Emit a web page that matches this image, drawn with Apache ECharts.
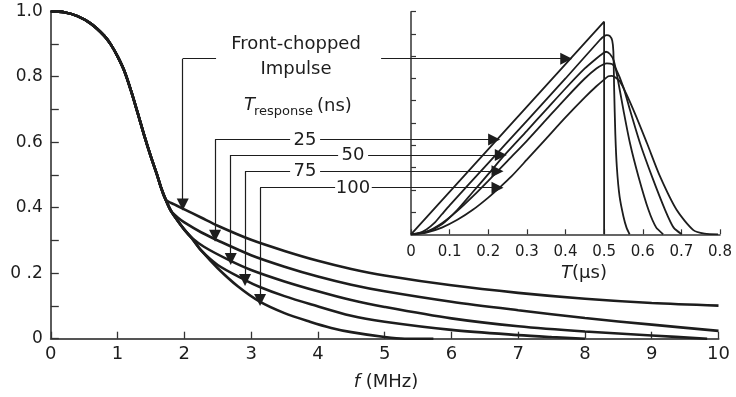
<!DOCTYPE html>
<html>
<head>
<meta charset="utf-8">
<script src="https://cdn.jsdelivr.net/npm/echarts@6/dist/echarts.min.js"></script>
<style>
html, body { margin: 0; padding: 0; background: #fff; }
#chart { width: 736px; height: 397px; }
</style>
</head>
<body>
<div id="chart"></div>
<script>
// ---- spectrum (main plot), f in MHz ----
var freqCommon = [0, 0.2, 0.4, 0.6, 0.8, 0.9, 1.0, 1.1, 1.2, 1.3, 1.4, 1.5, 1.6, 1.65];
var ampCommon  = [1.0, 0.997, 0.985, 0.962, 0.925, 0.898, 0.862, 0.818, 0.758, 0.69, 0.62, 0.555, 0.495, 0.462];

var freqImpulse = [1.72, 1.85, 2.0, 2.25, 2.5, 3.0, 3.5, 4.0, 4.5, 5.0, 6.0, 7.0, 8.0, 9.0, 10.0];
var ampImpulse  = [0.425, 0.41, 0.395, 0.37, 0.345, 0.302, 0.268, 0.238, 0.213, 0.193, 0.163, 0.14, 0.122, 0.109, 0.101];

var freq25 = [1.72, 1.8, 1.9, 2.0, 2.25, 2.5, 3.0, 3.5, 4.0, 4.5, 5.0, 6.0, 7.0, 8.0, 9.0, 10.0];
var amp25  = [0.425, 0.39, 0.37, 0.355, 0.325, 0.3, 0.255, 0.22, 0.19, 0.165, 0.145, 0.113, 0.087, 0.063, 0.043, 0.024];

var freq50 = [1.72, 1.8, 1.9, 2.0, 2.1, 2.3, 2.67, 3.0, 3.5, 4.0, 4.5, 5.0, 6.0, 7.0, 8.0, 9.0, 9.83];
var amp50  = [0.425, 0.39, 0.36, 0.333, 0.31, 0.28, 0.24, 0.21, 0.175, 0.145, 0.118, 0.097, 0.062, 0.038, 0.022, 0.01, 0];

var freq75 = [1.72, 1.8, 1.9, 2.0, 2.1, 2.25, 2.5, 2.91, 3.13, 3.5, 3.88, 4.5, 5.0, 6.0, 7.0, 7.5, 8.0];
var amp75  = [0.425, 0.39, 0.36, 0.333, 0.31, 0.27, 0.225, 0.179, 0.158, 0.13, 0.106, 0.07, 0.052, 0.027, 0.011, 0.005, 0];

var freq100 = [1.72, 1.8, 1.9, 2.0, 2.1, 2.25, 2.5, 2.8, 3.13, 3.5, 3.88, 4.2, 4.5, 5.0, 5.3, 5.73];
var amp100  = [0.425, 0.39, 0.36, 0.333, 0.31, 0.27, 0.215, 0.16, 0.113, 0.078, 0.052, 0.033, 0.02, 0.005, 0, 0];

var xTickLabels = ['0', '1', '2', '3', '4', '5', '6', '7', '8', '9', '10'];
var yTickLabels = ['0', '', '0 .2', '', '0.4', '', '0.6', '', '0.8', '', '1.0'];

// ---- time waveforms (inset), T in microseconds ----
var tImpulse = [0, 0.5, 0.5];
var vImpulse = [0, 0.955, 0];

var t25 = [0, 0.02, 0.04, 0.06, 0.08, 0.1, 0.2, 0.3, 0.4, 0.49, 0.5, 0.507, 0.515, 0.521, 0.524, 0.526, 0.529, 0.533, 0.54, 0.55, 0.558, 0.566];
var v25 = [0, 0.005, 0.022, 0.05, 0.09, 0.13, 0.32, 0.51, 0.70, 0.875, 0.89, 0.895, 0.89, 0.87, 0.82, 0.65, 0.45, 0.3, 0.17, 0.08, 0.03, 0];

var t50 = [0, 0.04, 0.08, 0.12, 0.16, 0.2, 0.239, 0.3, 0.35, 0.4, 0.45, 0.48, 0.495, 0.505, 0.515, 0.525, 0.535, 0.55, 0.567, 0.589, 0.615, 0.635, 0.653];
var v50 = [0, 0.01, 0.045, 0.11, 0.19, 0.27, 0.35, 0.465, 0.56, 0.655, 0.745, 0.79, 0.81, 0.82, 0.81, 0.78, 0.7, 0.558, 0.409, 0.259, 0.109, 0.03, 0];

var t75 = [0, 0.04, 0.08, 0.12, 0.16, 0.2, 0.25, 0.3, 0.35, 0.4, 0.45, 0.48, 0.5, 0.507, 0.52, 0.53, 0.55, 0.567, 0.593, 0.624, 0.658, 0.68, 0.701];
var v75 = [0, 0.012, 0.05, 0.105, 0.17, 0.24, 0.33, 0.42, 0.515, 0.61, 0.7, 0.745, 0.765, 0.768, 0.765, 0.745, 0.66, 0.558, 0.409, 0.259, 0.109, 0.03, 0];

var t100 = [0, 0.04, 0.08, 0.12, 0.16, 0.2, 0.23, 0.26, 0.3, 0.35, 0.4, 0.45, 0.48, 0.5, 0.511, 0.52, 0.541, 0.576, 0.611, 0.645, 0.688, 0.731, 0.76, 0.795];
var v100 = [0, 0.008, 0.03, 0.065, 0.11, 0.165, 0.211, 0.26, 0.335, 0.43, 0.525, 0.615, 0.665, 0.695, 0.71, 0.712, 0.686, 0.558, 0.409, 0.259, 0.109, 0.019, 0.003, 0];

var tTickLabels = ['0', '0.1', '0.2', '0.3', '0.4', '0.5', '0.6', '0.7', '0.8'];

// leader arrows, drawn in main-plot units
var arrowHeads = [
  [[1.976, 0.855], [1.976, 0.41]],
  [[4.947, 0.855], [7.72, 0.855]],
  [[2.460, 0.608], [2.460, 0.314]],
  [[4.033, 0.608], [6.64, 0.608]],
  [[2.695, 0.561], [2.695, 0.243]],
  [[4.752, 0.561], [6.74, 0.561]],
  [[2.909, 0.511], [2.909, 0.179]],
  [[4.033, 0.511], [6.69, 0.511]],
  [[3.134, 0.461], [3.134, 0.118]],
  [[4.807, 0.461], [6.69, 0.461]]
];
var arrowTails = [
  [[2.475, 0.855], [1.976, 0.855]],
  [[3.584, 0.608], [2.460, 0.608]],
  [[4.303, 0.561], [2.695, 0.561]],
  [[3.584, 0.511], [2.909, 0.511]],
  [[4.258, 0.461], [3.134, 0.461]]
];

function zip(xs, ys) {
  var out = [];
  for (var i = 0; i < xs.length; i++) out.push([xs[i], ys[i]]);
  return out;
}

var ink = '#1d1d1d';
var fontFam = 'DejaVu Sans';

function spectrum(xs, ys) {
  return {
    type: 'line', xAxisIndex: 0, yAxisIndex: 0,
    data: zip(freqCommon.concat(xs), ampCommon.concat(ys)),
    showSymbol: false, smooth: 0.3,
    lineStyle: { color: ink, width: 2.6 }, silent: true
  };
}
function wave(xs, ys, smooth) {
  return {
    type: 'line', xAxisIndex: 1, yAxisIndex: 1,
    data: zip(xs, ys),
    showSymbol: false, smooth: smooth,
    lineStyle: { color: ink, width: 1.8 }, silent: true
  };
}

var chart = echarts.init(document.getElementById('chart'));
chart.setOption({
  animation: false,
  backgroundColor: '#fff',
  grid: [
    { left: 50.8, right: 17.5, top: 11.2, bottom: 58.3, outerBoundsMode: 'none' },
    { left: 411, right: 16, top: 11.7, bottom: 162.7, outerBoundsMode: 'none' }
  ],
  xAxis: [
    {
      gridIndex: 0, type: 'value', min: 0, max: 10, interval: 1,
      axisLine: { lineStyle: { color: '#555', width: 2 } },
      axisTick: { inside: true, length: 7, lineStyle: { color: '#333', width: 1.3 } },
      axisLabel: { margin: 7, color: ink, fontSize: 18, fontFamily: fontFam,
        formatter: function (v) { return xTickLabels[Math.round(v)]; } },
      splitLine: { show: false }
    },
    {
      gridIndex: 1, type: 'value', min: 0, max: 0.8, interval: 0.1,
      axisLine: { lineStyle: { color: '#333', width: 1.5 } },
      axisTick: { inside: true, length: 5, lineStyle: { color: '#333', width: 1.2 } },
      axisLabel: { margin: 10, color: ink, fontSize: 15, fontFamily: fontFam,
        formatter: function (v) { return tTickLabels[Math.round(v * 10)]; } },
      splitLine: { show: false }
    }
  ],
  yAxis: [
    {
      gridIndex: 0, type: 'value', min: 0, max: 1, interval: 0.1,
      axisLine: { show: true, lineStyle: { color: '#333', width: 1.6 } },
      axisTick: { show: true, inside: true, length: 8, lineStyle: { color: '#333', width: 1.3 } },
      axisLabel: { margin: 8, color: ink, fontSize: 17, fontFamily: fontFam, interval: 0,
        formatter: function (v) { return yTickLabels[Math.round(v * 10)]; } },
      splitLine: { show: false }
    },
    {
      gridIndex: 1, type: 'value', min: 0, max: 1, interval: 0.1,
      axisLine: { show: true, lineStyle: { color: '#333', width: 1.5 } },
      axisTick: { show: true, inside: true, length: 5, lineStyle: { color: '#333', width: 1.2 } },
      axisLabel: { show: false },
      splitLine: { show: false }
    }
  ],
  series: [
    spectrum(freqImpulse, ampImpulse),
    spectrum(freq25, amp25),
    spectrum(freq50, amp50),
    spectrum(freq75, amp75),
    spectrum(freq100, amp100),
    wave(tImpulse, vImpulse, false),
    wave(t25, v25, 0.2),
    wave(t50, v50, 0.25),
    wave(t75, v75, 0.25),
    wave(t100, v100, 0.25),
    {
      type: 'lines', coordinateSystem: 'cartesian2d', xAxisIndex: 0, yAxisIndex: 0,
      symbol: ['none', 'triangle'], symbolSize: [6, 12],
      lineStyle: { color: ink, width: 1.2, opacity: 1, curveness: 0 },
      data: arrowHeads.map(function (c) { return { coords: c }; }),
      silent: true, z: 4
    },
    {
      type: 'lines', coordinateSystem: 'cartesian2d', xAxisIndex: 0, yAxisIndex: 0,
      symbol: ['none', 'none'],
      lineStyle: { color: ink, width: 1.2, opacity: 1, curveness: 0 },
      data: arrowTails.map(function (c) { return { coords: c }; }),
      silent: true, z: 4
    }
  ],
  graphic: [
    { type: 'text', x: 296, y: 44, style: { text: 'Front-chopped', font: '18px ' + fontFam, fill: ink, align: 'center', verticalAlign: 'middle' } },
    { type: 'text', x: 296, y: 69, style: { text: 'Impulse', font: '18px ' + fontFam, fill: ink, align: 'center', verticalAlign: 'middle' } },
    { type: 'text', x: 255, y: 105, style: { text: 'T', font: 'italic 18px ' + fontFam, fill: ink, align: 'right', verticalAlign: 'middle' } },
    { type: 'text', x: 254, y: 112, style: { text: 'response', font: '13px ' + fontFam, fill: ink, align: 'left', verticalAlign: 'middle' } },
    { type: 'text', x: 317, y: 106, style: { text: '(ns)', font: '18px ' + fontFam, fill: ink, align: 'left', verticalAlign: 'middle' } },
    { type: 'text', x: 305, y: 140, style: { text: '25', font: '18px ' + fontFam, fill: ink, align: 'center', verticalAlign: 'middle' } },
    { type: 'text', x: 353, y: 155, style: { text: '50', font: '18px ' + fontFam, fill: ink, align: 'center', verticalAlign: 'middle' } },
    { type: 'text', x: 305, y: 171.5, style: { text: '75', font: '18px ' + fontFam, fill: ink, align: 'center', verticalAlign: 'middle' } },
    { type: 'text', x: 353, y: 188, style: { text: '100', font: '18px ' + fontFam, fill: ink, align: 'center', verticalAlign: 'middle' } },
    { type: 'text', x: 584, y: 273, style: {
        text: '{i|T}(\u03bc{n|s})', fill: ink, align: 'center', verticalAlign: 'middle',
        font: '18px ' + fontFam,
        rich: { i: { fontStyle: 'italic', fontSize: 18, fontFamily: fontFam }, n: { fontSize: 18, fontFamily: fontFam } } } },
    { type: 'text', x: 386, y: 382, style: {
        text: '{i|f} (MHz)', fill: ink, align: 'center', verticalAlign: 'middle',
        font: '18px ' + fontFam,
        rich: { i: { fontStyle: 'italic', fontSize: 18, fontFamily: fontFam } } } }
  ]
});
</script>
</body>
</html>
